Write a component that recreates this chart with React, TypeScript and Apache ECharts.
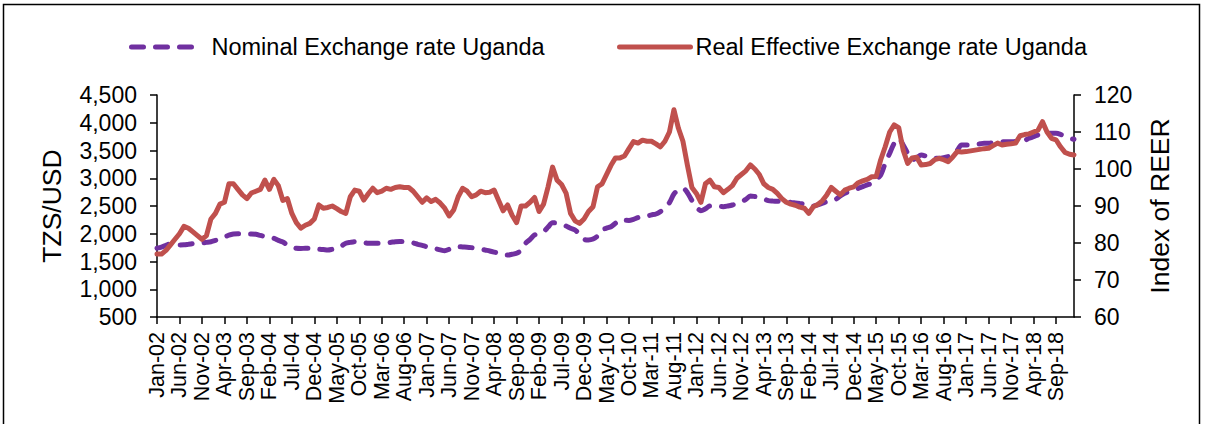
import React, { useEffect, useRef } from "react";
import * as echarts from "echarts";

const monthNames = ["Jan", "Feb", "Mar", "Apr", "May", "Jun", "Jul", "Aug", "Sep", "Oct", "Nov", "Dec"];
const years = ["02", "03", "04", "05", "06", "07", "08", "09", "10", "11", "12", "13", "14", "15", "16", "17", "18", "19"];
const categories: string[] = [];
for (const y of years) {
  for (const m of monthNames) {
    if (categories.length < 205) categories.push(`${m}-${y}`);
  }
}

// Nominal exchange rate (left axis, TZS/USD)
const nominal = [
  1740, 1760, 1790, 1820, 1810, 1797, 1800, 1810, 1820, 1828, 1835, 1845,
  1857, 1880, 1900, 1940, 1975, 1996, 2000, 2000, 1996, 1996, 1990, 1970,
  1950, 1935, 1918, 1880, 1850, 1800, 1760, 1738, 1735, 1738, 1738, 1730,
  1720, 1715, 1707, 1720, 1738, 1780, 1828, 1845, 1857, 1850, 1840, 1828,
  1828, 1828, 1828, 1835, 1845, 1857, 1860, 1857, 1850, 1835, 1810, 1790,
  1767, 1750, 1730, 1710, 1695, 1720, 1760, 1767, 1762, 1758, 1750, 1740,
  1725, 1707, 1690, 1670, 1648, 1620, 1617, 1630, 1648, 1700, 1828, 1900,
  1978, 2000, 2037, 2120, 2199, 2190, 2176, 2140, 2100, 2068, 1990, 1900,
  1888, 1905, 1960, 2068, 2100, 2127, 2190, 2248, 2245, 2240, 2260, 2290,
  2307, 2320, 2340, 2356, 2400, 2458, 2560, 2716, 2790, 2819, 2740, 2600,
  2488, 2415, 2450, 2500, 2500, 2495, 2488, 2500, 2518, 2550, 2578, 2620,
  2680, 2670, 2657, 2630, 2596, 2590, 2585, 2580, 2578, 2565, 2555, 2545,
  2536, 2510, 2500, 2520, 2549, 2580, 2600, 2621, 2680, 2729, 2760, 2790,
  2819, 2850, 2880, 2909, 2980, 3059, 3270, 3450, 3630, 3720, 3600, 3450,
  3329, 3370, 3419, 3400, 3360, 3360, 3360, 3370, 3390, 3419, 3500, 3599,
  3599, 3599, 3610, 3620, 3630, 3630, 3640, 3650, 3655, 3659, 3659, 3660,
  3659, 3680, 3720, 3749, 3780, 3800, 3810, 3810, 3810, 3790, 3750, 3720,
  3702,
];

// Real effective exchange rate index (right axis)
const reer = [
  77, 77, 78, 79.5, 81, 82.5, 84.5, 84, 83, 82, 81, 82,
  86.5, 88, 90.5, 91, 96, 96, 94.5, 93, 92, 93.5, 94, 94.5,
  97, 94.5, 97.2, 95.5, 91.5, 92, 88, 85.5, 84, 84.8, 85.3, 86.5,
  90.3, 89.4, 89.6, 90, 89.3, 88.5, 88, 92.5, 94.3, 94, 91.6, 93.3,
  94.8, 93.6, 94, 94.8, 94.5, 95, 95.2, 95, 95, 94, 92.5, 91,
  92.2, 91.2, 91.8, 90.8, 89.4, 87.3, 88.9, 92.5, 94.8, 94, 92.5, 93,
  94, 93.6, 93.7, 94.3, 91.5, 88.7, 90.3, 87.5, 85.5, 90, 90, 91,
  92.3, 88.5, 90.5, 95.2, 100.5, 97, 95.8, 93.5, 88, 86, 85.3, 86.5,
  88.5, 89.8, 95.2, 96, 98.5, 101, 103, 103, 103.5, 105.5, 107.4, 107,
  107.8, 107.5, 107.5, 106.8, 106, 107.5, 110, 116, 111, 107.5, 101, 95,
  93.4, 91, 96, 97, 95.2, 95, 93.6, 94.5, 95.5, 97.5, 98.5, 99.5,
  101.1, 100, 98.5, 96, 95, 94.5, 93.4, 92, 91, 90.5, 90.2, 89.7,
  89.4, 88, 89.8, 90.4, 91.4, 93, 95, 94, 93, 94.3, 94.8, 95.2,
  96.3, 96.8, 97.2, 97.9, 98, 102.5, 106, 110, 111.9, 111.2, 105.1, 101.5,
  103, 103.2, 101.1, 101.2, 101.5, 102.5, 102.9, 102.5, 102, 103.2, 104.7, 104.6,
  104.7, 104.9, 105.1, 105.3, 105.5, 105.6, 106.3, 107, 106.5, 106.7, 106.8, 107,
  109, 109.3, 109.5, 110, 110.5, 112.8, 110, 108.3, 107.9, 106, 104.5, 104,
  103.8,
];

const seriesNames = ["Nominal Exchange rate Uganda", "Real Effective Exchange rate Uganda"];
const leftTitle = "TZS/USD";
const rightTitle = "Index of REER";

const FONT = "'Liberation Sans', Arial, sans-serif";

export default function App() {
  const ref = useRef<HTMLDivElement>(null);
  useEffect(() => {
    document.body.style.margin = "0";
    if (!ref.current) return;
    const chart = echarts.init(ref.current, undefined, { renderer: "svg" });
    const axisLine = { show: true, lineStyle: { color: "#000", width: 1.5 } };
    chart.setOption({
      animation: false,
      backgroundColor: "#fff",
      textStyle: { fontFamily: FONT, color: "#000" },
      grid: { left: 157, right: 131, top: 95, bottom: 107, containLabel: false },
      legend: [
        {
          data: [seriesNames[0]],
          left: 129,
          top: 35,
          padding: 0,
          itemWidth: 67,
          itemHeight: 14,
          itemStyle: { opacity: 0 },
          lineStyle: { width: 5, cap: "round" },
          textStyle: { fontFamily: FONT, fontSize: 23.5, color: "#000", padding: [0, 0, 0, 8] },
        },
        {
          data: [seriesNames[1]],
          left: 617,
          top: 35,
          padding: 0,
          itemWidth: 71,
          itemHeight: 14,
          itemStyle: { opacity: 0 },
          lineStyle: { width: 5, cap: "round" },
          textStyle: { fontFamily: FONT, fontSize: 23.5, color: "#000" },
        },
      ],
      xAxis: {
        type: "category",
        data: categories,
        boundaryGap: false,
        axisLine,
        axisTick: { show: true, interval: 4, length: 7, lineStyle: { color: "#000", width: 1.5 } },
        axisLabel: {
          interval: 4,
          rotate: 90,
          margin: 15,
          fontFamily: FONT,
          fontSize: 21.5,
          color: "#000",
        },
        splitLine: { show: false },
      },
      yAxis: [
        {
          type: "value",
          min: 500,
          max: 4500,
          interval: 500,
          position: "left",
          name: leftTitle,
          nameLocation: "middle",
          nameRotate: 90,
          nameGap: 92,
          nameTextStyle: { fontFamily: FONT, fontSize: 26.5, color: "#000" },
          axisLine,
          axisTick: { show: true, length: 7, lineStyle: { color: "#000", width: 1.5 } },
          axisLabel: {
            margin: 20,
            fontFamily: FONT,
            fontSize: 23,
            color: "#000",
            formatter: (v: number) => v.toLocaleString("en-US"),
          },
          splitLine: { show: false },
        },
        {
          type: "value",
          min: 60,
          max: 120,
          interval: 10,
          position: "right",
          name: rightTitle,
          nameLocation: "middle",
          nameRotate: 90,
          nameGap: 72,
          nameTextStyle: { fontFamily: FONT, fontSize: 26.5, color: "#000" },
          axisLine,
          axisTick: { show: true, length: 7, lineStyle: { color: "#000", width: 1.5 } },
          axisLabel: { margin: 20, fontFamily: FONT, fontSize: 23, color: "#000" },
          splitLine: { show: false },
        },
      ],
      series: [
        {
          name: seriesNames[0],
          type: "line",
          yAxisIndex: 0,
          data: nominal,
          symbol: "none",
          smooth: 0.3,
          lineStyle: { color: "#7030A0", width: 5, type: [12, 12], cap: "round" },
          itemStyle: { color: "#7030A0" },
          z: 2,
        },
        {
          name: seriesNames[1],
          type: "line",
          yAxisIndex: 1,
          data: reer,
          symbol: "none",
          lineStyle: { color: "#C0504D", width: 5, join: "round", cap: "round" },
          itemStyle: { color: "#C0504D" },
          z: 3,
        },
      ],
      graphic: [
        {
          type: "rect",
          shape: { x: 3.5, y: 4.5, width: 1196, height: 440 },
          style: { fill: "none", stroke: "#000", lineWidth: 1.5 },
          silent: true,
        },
      ],
    });
    return () => chart.dispose();
  }, []);
  return <div ref={ref} style={{ width: 1205, height: 424 }} />;
}
